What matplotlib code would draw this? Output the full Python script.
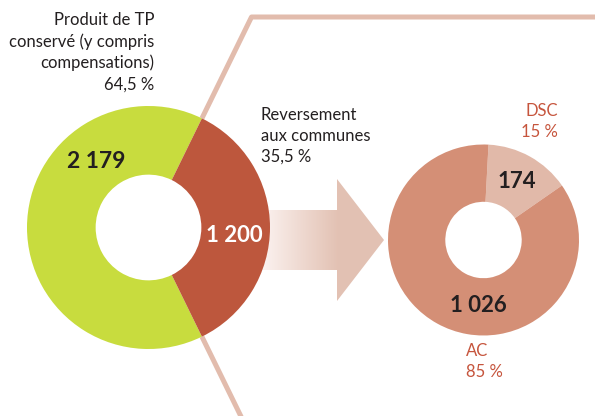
import numpy as np
import matplotlib
matplotlib.use("Agg")
import matplotlib.pyplot as plt
from matplotlib.patches import Polygon

plt.rcParams["font.family"] = ["Lato", "DejaVu Sans"]

# données (millions)
tp_labels = ["Produit de TP conservé", "Reversement aux communes"]
tp_values = [2179, 1200]
tp_pcts = ["64,5 %", "35,5 %"]
tp_colors = ["#c8dc3e", "#bd573d"]

rev_labels = ["DSC", "AC"]
rev_values = [174, 1026]
rev_pcts = ["15 %", "85 %"]
rev_colors = ["#e1b9a9", "#d48f76"]

line_col = "#e2bcad"
W, H = 595, 416

fig = plt.figure(figsize=(W / 100, H / 100), dpi=100)
ax = fig.add_axes([0, 0, 1, 1])

# donut de gauche
c1, r1 = (148.5, 188.5), 121.5
half = 180 * tp_values[1] / sum(tp_values)
ax.pie(tp_values, colors=tp_colors, startangle=half, counterclock=True,
       center=c1, radius=r1, wedgeprops=dict(width=r1 * 0.565, linewidth=0))

# donut de droite
c2, r2 = (483.5, 176), 95.5
ax.pie(rev_values, colors=rev_colors, startangle=87, counterclock=False,
       center=c2, radius=r2, wedgeprops=dict(width=r2 * 0.6, linewidth=0))

# traits du cadre (prolongement des bords du secteur reversé)
th = np.deg2rad(half)
dx, dy = np.cos(th), np.sin(th)
t_top = (399 - c1[1]) / dy
x_top = c1[0] + t_top * dx
ax.plot([c1[0] + r1 * dx, x_top, W + 5], [c1[1] + r1 * dy, 399, 399],
        color=line_col, lw=3.6, zorder=0, solid_capstyle="butt")
t_bot = (c1[1] + 10) / dy
ax.plot([c1[0] + r1 * dx, c1[0] + t_bot * dx], [c1[1] - r1 * dy, -10],
        color=line_col, lw=3.6, zorder=0, solid_capstyle="butt")

# flèche en dégradé
arrow = Polygon([(262, 206), (337, 206), (337, 237), (384, 176), (337, 115),
                 (337, 146), (262, 146)], closed=True, facecolor="none",
                edgecolor="none", zorder=0.5)
ax.add_patch(arrow)
grad = np.linspace(0, 1, 256)
grad = np.clip(grad / 0.62, 0, 1)
start = np.array([0.985, 0.95, 0.94])
end = np.array([0.89, 0.76, 0.705])
img = start[None, :] + grad[:, None] * (end - start)[None, :]
im = ax.imshow(img[None, :, :], extent=[262, 384, 115, 237], aspect="auto",
               zorder=0.5, interpolation="bilinear")
im.set_clip_path(arrow)

# valeurs
ax.text(96, 416 - 161, "2 179", ha="center", va="center", fontsize=16.5,
        fontweight="bold", color="#231f20")
ax.text(234, 416 - 236, "1 200", ha="center", va="center", fontsize=16,
        fontweight="bold", color="white")
ax.text(517, 416 - 181, "174", ha="center", va="center", fontsize=16,
        fontweight="bold", color="#231f20")
ax.text(478, 416 - 306, "1 026", ha="center", va="center", fontsize=16,
        fontweight="bold", color="#231f20")

# libellés
ax.text(154, 416 - 12, "Produit de TP\nconservé (y compris\ncompensations)\n"
        + tp_pcts[0], ha="right", va="top", fontsize=12, color="#231f20",
        linespacing=1.38)
ax.text(261, 416 - 107, "Reversement\naux communes\n" + tp_pcts[1],
        ha="left", va="top", fontsize=12, color="#231f20", linespacing=1.38)
ax.text(558, 416 - 103, rev_labels[0] + "\n" + rev_pcts[0], ha="right",
        va="top", fontsize=12, color="#c6553d", linespacing=1.38)
ax.text(466, 416 - 343, rev_labels[1] + "\n" + rev_pcts[1], ha="left",
        va="top", fontsize=12, color="#c6553d", linespacing=1.38)

ax.set_xlim(0, W)
ax.set_ylim(0, H)
ax.set_aspect("equal")
ax.axis("off")

fig.savefig("out.png", dpi=100)
